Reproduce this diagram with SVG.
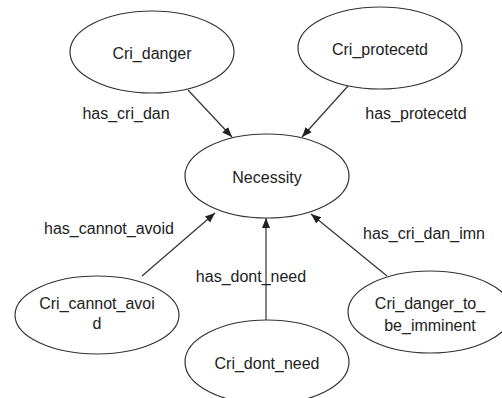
<svg xmlns="http://www.w3.org/2000/svg" width="502" height="398" viewBox="0 0 502 398">
  <style>
    .node ellipse { fill: #ffffff; stroke: #333333; stroke-width: 1.2; }
    .node text, .label { font-family: "Liberation Sans", Arial, sans-serif; font-size: 16px; fill: #222222; text-anchor: middle; }
    .edge { stroke: #333333; stroke-width: 1.2; fill: none; marker-end: url(#arrow); }
  </style>
  <defs>
    <marker id="arrow" viewBox="0 0 10 10" refX="10" refY="5" markerWidth="10" markerHeight="10" markerUnits="userSpaceOnUse" orient="auto">
      <path d="M0,1 L10,5 L0,9 Z" fill="#222222"/>
    </marker>
  </defs>
  <rect width="502" height="398" fill="#ffffff"/>

  <g id="connectors">
    <line class="edge" x1="188" y1="90" x2="232" y2="137"/>
    <line class="edge" x1="348" y1="86" x2="302" y2="137"/>
    <line class="edge" x1="142" y1="276" x2="215" y2="213"/>
    <line class="edge" x1="266" y1="320" x2="266" y2="218"/>
    <line class="edge" x1="387" y1="276" x2="311" y2="214"/>
    <text class="label" x="126" y="119">has_cri_dan</text>
    <text class="label" x="416" y="119">has_protecetd</text>
    <text class="label" x="109" y="234">has_cannot_avoid</text>
    <text class="label" x="251" y="282">has_dont_need</text>
    <text class="label" x="424" y="239">has_cri_dan_imn</text>
  </g>

  <g id="Cri_danger" class="node">
    <ellipse cx="152" cy="52" rx="82" ry="41"/>
    <text x="152" y="59">Cri_danger</text>
  </g>
  <g id="Cri_protecetd" class="node">
    <ellipse cx="380" cy="48" rx="82" ry="41"/>
    <text x="380" y="55">Cri_protecetd</text>
  </g>
  <g id="Necessity" class="node">
    <ellipse cx="267" cy="176" rx="82" ry="42"/>
    <text x="267" y="183">Necessity</text>
  </g>
  <g id="Cri_cannot_avoid" class="node">
    <ellipse cx="97" cy="315" rx="82" ry="39"/>
    <text x="97" y="309">Cri_cannot_avoi</text>
    <text x="97" y="329">d</text>
  </g>
  <g id="Cri_dont_need" class="node">
    <ellipse cx="267" cy="362" rx="82" ry="42"/>
    <text x="267" y="369">Cri_dont_need</text>
  </g>
  <g id="Cri_danger_to_be_imminent" class="node">
    <ellipse cx="430" cy="312" rx="82" ry="41"/>
    <text x="430" y="309">Cri_danger_to_</text>
    <text x="430" y="331">be_imminent</text>
  </g>
</svg>
